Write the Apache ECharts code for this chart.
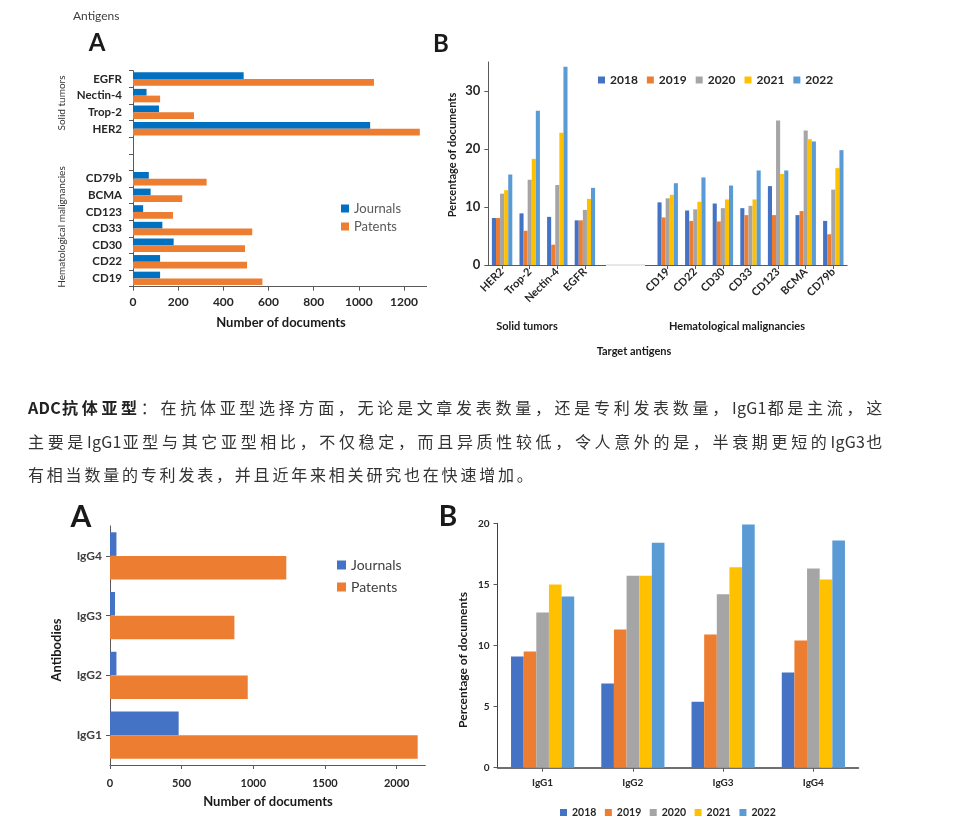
<!DOCTYPE html>
<html>
<head>
<meta charset="utf-8">
<script src="https://cdn.jsdelivr.net/npm/echarts@6/dist/echarts.min.js"></script>
<style>
html,body{margin:0;padding:0;background:#fff;}
#wrap{position:relative;width:968px;height:838px;overflow:hidden;}
#chart{position:absolute;left:0;top:0;width:968px;height:838px;}
#para{position:absolute;left:28px;top:391px;width:857px;font-family:"Noto Sans CJK SC","Noto Sans",sans-serif;font-size:16px;line-height:33.5px;letter-spacing:2.8px;color:#333;z-index:2;}
#para .ln{white-space:nowrap;}
#para .j{text-align:justify;text-align-last:justify;}
#para b{font-weight:bold;color:#222;}
#para .lt{letter-spacing:0.3px;}
</style>
</head>
<body>
<div id="wrap">
<div id="chart"></div>
<div id="para">
<div class="ln j"><b><span class="lt">ADC</span>抗体亚型</b>：在抗体亚型选择方面，无论是文章发表数量，还是专利发表数量，<span class="lt">IgG1</span>都是主流，这</div>
<div class="ln j">主要是<span class="lt">IgG1</span>亚型与其它亚型相比，不仅稳定，而且异质性较低，令人意外的是，半衰期更短的<span class="lt">IgG3</span>也</div>
<div class="ln">有相当数量的专利发表，并且近年来相关研究也在快速增加。</div>
</div>
</div>
<script>
// ---- Data ----
const antigenCats = ['CD19','CD22','CD30','CD33','CD123','BCMA','CD79b','',' ','HER2','Trop-2','Nectin-4','EGFR'];
const antigenJournals = [120,120,180,130,45,78,70,null,null,1050,115,60,490];
const antigenPatents  = [573,505,496,528,177,218,326,null,null,1270,270,120,1067];

const pctCats = ['HER2','Trop-2','Nectin-4','EGFR','',' ','CD19','CD22','CD30','CD33','CD123','BCMA','CD79b'];
const years = ['2018','2019','2020','2021','2022'];
const pct2018 = [8.1,8.9,8.3,7.7,null,null,10.8,9.4,10.6,9.8,13.6,8.6,7.6];
const pct2019 = [8.1,5.9,3.5,7.7,null,null,8.2,7.6,7.5,8.6,8.6,9.3,5.3];
const pct2020 = [12.3,14.7,13.8,9.5,null,null,11.5,9.6,9.8,10.2,24.9,23.2,13.0];
const pct2021 = [12.9,18.3,22.8,11.4,null,null,12.1,10.9,11.3,11.3,15.7,21.7,16.7];
const pct2022 = [15.6,26.6,34.2,13.3,null,null,14.1,15.1,13.7,16.3,16.3,21.3,19.8];

const igCats = ['IgG1','IgG2','IgG3','IgG4'];
const igJournals = [479,45,35,45];
const igPatents  = [2147,961,868,1230];
const ig2018 = [9.1,6.9,5.4,7.8];
const ig2019 = [9.5,11.3,10.9,10.4];
const ig2020 = [12.7,15.7,14.2,16.3];
const ig2021 = [15.0,15.7,16.4,15.4];
const ig2022 = [14.0,18.4,19.9,18.6];

const countTicksA = [0,200,400,600,800,1000,1200];
const pctTicksB = [0,10,20,30];
const countTicksC = [0,500,1000,1500,2000];
const pctTicksD = [0,5,10,15,20];

// ---- Styles ----
const FONT = 'Lato';
const yearColors = ['#4472C4','#ED7D31','#A5A5A5','#FFC000','#5B9BD5'];
const axisLine = {show:true, lineStyle:{color:'#595959', width:1}};
const axisTick = {show:true, length:4, lineStyle:{color:'#595959'}};
const boldLabel = (size)=>({fontFamily:FONT, fontWeight:'bold', fontSize:size, color:'#262626'});
const plain = (v)=>String(v);

const chart = echarts.init(document.getElementById('chart'), null, {renderer:'canvas', width:968, height:838});

const pctSeries = [pct2018,pct2019,pct2020,pct2021,pct2022].map((d,i)=>({
  name: years[i], type:'bar', xAxisIndex:1, yAxisIndex:1, data:d,
  barGap:'0%', barCategoryGap:'26%', itemStyle:{color:yearColors[i]}
}));
const igPctSeries = [ig2018,ig2019,ig2020,ig2021,ig2022].map((d,i)=>({
  name: years[i], type:'bar', xAxisIndex:3, yAxisIndex:3, data:d,
  barGap:'0%', barCategoryGap:'30%', itemStyle:{color:yearColors[i]}
}));

function txt(text, x, y, size, opts){
  opts = opts || {};
  return {
    type:'text', x:x, y:y, rotation: opts.rot || 0, z:10,
    style:{text:text, fontFamily:FONT, fontSize:size, fontWeight: opts.normal ? 'normal' : 'bold',
      fill: opts.color || '#1a1a1a', textAlign: opts.align || 'center', textVerticalAlign:'middle'}
  };
}

const option = {
  backgroundColor:'#fff',
  animation:false,
  textStyle:{fontFamily:FONT},
  grid:[
    {left:133, top:70.7, width:293.6, height:216, outerBoundsMode:'none'},
    {left:488.3, top:62, width:358.8, height:203, outerBoundsMode:'none'},
    {left:110, top:526, width:315.3, height:239, outerBoundsMode:'none'},
    {left:497.5, top:523.3, width:361, height:244.4, outerBoundsMode:'none'}
  ],
  xAxis:[
    {gridIndex:0, type:'value', min:countTicksA[0], max:1300, interval:countTicksA[1]-countTicksA[0],
     axisLine:axisLine, axisTick:axisTick, splitLine:{show:false},
     axisLabel:Object.assign({showMaxLabel:false, margin:9, formatter:plain}, boldLabel(12))},
    {gridIndex:1, type:'category', data:pctCats,
     axisLine:axisLine, axisTick:Object.assign({alignWithLabel:true}, axisTick),
     axisLabel:Object.assign({rotate:45, margin:5, interval:0}, boldLabel(11))},
    {gridIndex:2, type:'value', min:countTicksC[0], max:2200, interval:countTicksC[1]-countTicksC[0],
     axisLine:axisLine, axisTick:axisTick, splitLine:{show:false},
     axisLabel:Object.assign({showMaxLabel:false, margin:13, formatter:plain}, boldLabel(11))},
    {gridIndex:3, type:'category', data:igCats,
     axisLine:{show:true, lineStyle:{color:'#404040', width:1.5}}, axisTick:Object.assign({alignWithLabel:true}, axisTick),
     axisLabel:Object.assign({margin:10}, boldLabel(10))}
  ],
  yAxis:[
    {gridIndex:0, type:'category', data:antigenCats,
     axisLine:axisLine, axisTick:axisTick,
     axisLabel:Object.assign({interval:0, margin:11}, boldLabel(11.5))},
    {gridIndex:1, type:'value', min:pctTicksB[0], max:35, interval:pctTicksB[1]-pctTicksB[0],
     axisLine:axisLine, axisTick:axisTick, splitLine:{show:false},
     axisLabel:Object.assign({showMaxLabel:false, margin:8}, boldLabel(13))},
    {gridIndex:2, type:'category', data:igCats,
     axisLine:axisLine, axisTick:Object.assign({alignWithLabel:true}, axisTick),
     axisLabel:Object.assign({margin:8}, boldLabel(12), {color:'#404040'})},
    {gridIndex:3, type:'value', min:pctTicksD[0], max:20, interval:pctTicksD[1]-pctTicksD[0],
     axisLine:{show:true, lineStyle:{color:'#404040', width:1}}, axisTick:axisTick, splitLine:{show:false},
     axisLabel:Object.assign({margin:8}, boldLabel(10))}
  ],
  legend:[
    {orient:'vertical', left:336, top:197, itemWidth:8, itemHeight:8, itemGap:5, icon:'rect',
     textStyle:{fontFamily:FONT, fontSize:13, color:'#595959'},
     data:[{name:'Journals', itemStyle:{color:'#0070C0'}},{name:'Patents', itemStyle:{color:'#ED7D31'}}]},
    {orient:'horizontal', left:593, top:69, itemWidth:7, itemHeight:7, itemGap:9, icon:'rect',
     textStyle:boldLabel(12), data:years},
    {orient:'vertical', left:332, top:553, itemWidth:9, itemHeight:9, itemGap:8, icon:'rect',
     textStyle:{fontFamily:FONT, fontSize:14, color:'#404040'},
     data:[{name:'Journals', itemStyle:{color:'#4472C4'}},{name:'Patents', itemStyle:{color:'#ED7D31'}}]},
    {orient:'horizontal', left:555, top:802, itemWidth:7, itemHeight:7, itemGap:8.5, icon:'rect',
     textStyle:boldLabel(10.5), data:years}
  ],
  graphic:[
    txt('Antigens', 73, 16, 12, {normal:true, align:'left', color:'#404040'}),
    txt('A', 97, 43, 24),
    txt('Solid tumors', 62, 103, 10, {normal:true, rot:Math.PI/2, color:'#333'}),
    txt('Hematological malignancies', 62, 227, 10, {normal:true, rot:Math.PI/2, color:'#333'}),
    txt('Number of documents', 281, 323, 13),
    txt('B', 441, 44, 24),
    txt('Percentage of documents', 452, 155, 11, {rot:Math.PI/2}),
    txt('Solid tumors', 527, 326, 11),
    txt('Hematological malignancies', 737, 326, 11),
    txt('Target antigens', 634, 351, 11),
    txt('A', 81, 517, 30),
    txt('Antibodies', 57, 650, 13, {rot:Math.PI/2}),
    txt('Number of documents', 268, 802, 13),
    txt('B', 448, 517, 28),
    txt('Percentage of documents', 463, 660, 12, {rot:Math.PI/2}),
    {type:'rect', z:20, shape:{x:606, y:263.5, width:39, height:8}, style:{fill:'#fff'}},
    {type:'line', z:21, shape:{x1:606, y1:265, x2:645, y2:265}, style:{stroke:'#cfcfcf', lineWidth:1}}
  ],
  series:[
    {name:'Journals', type:'bar', xAxisIndex:0, yAxisIndex:0, data:antigenJournals,
     barGap:'0%', barCategoryGap:'19%', itemStyle:{color:'#0070C0'}},
    {name:'Patents', type:'bar', xAxisIndex:0, yAxisIndex:0, data:antigenPatents,
     barGap:'0%', barCategoryGap:'19%', itemStyle:{color:'#ED7D31'}},
    ...pctSeries,
    {name:'Journals', type:'bar', xAxisIndex:2, yAxisIndex:2, data:igJournals,
     barGap:'0%', barCategoryGap:'21%', itemStyle:{color:'#4472C4'}},
    {name:'Patents', type:'bar', xAxisIndex:2, yAxisIndex:2, data:igPatents,
     barGap:'0%', barCategoryGap:'21%', itemStyle:{color:'#ED7D31'}},
    ...igPctSeries
  ]
};
chart.setOption(option);
</script>
</body>
</html>
